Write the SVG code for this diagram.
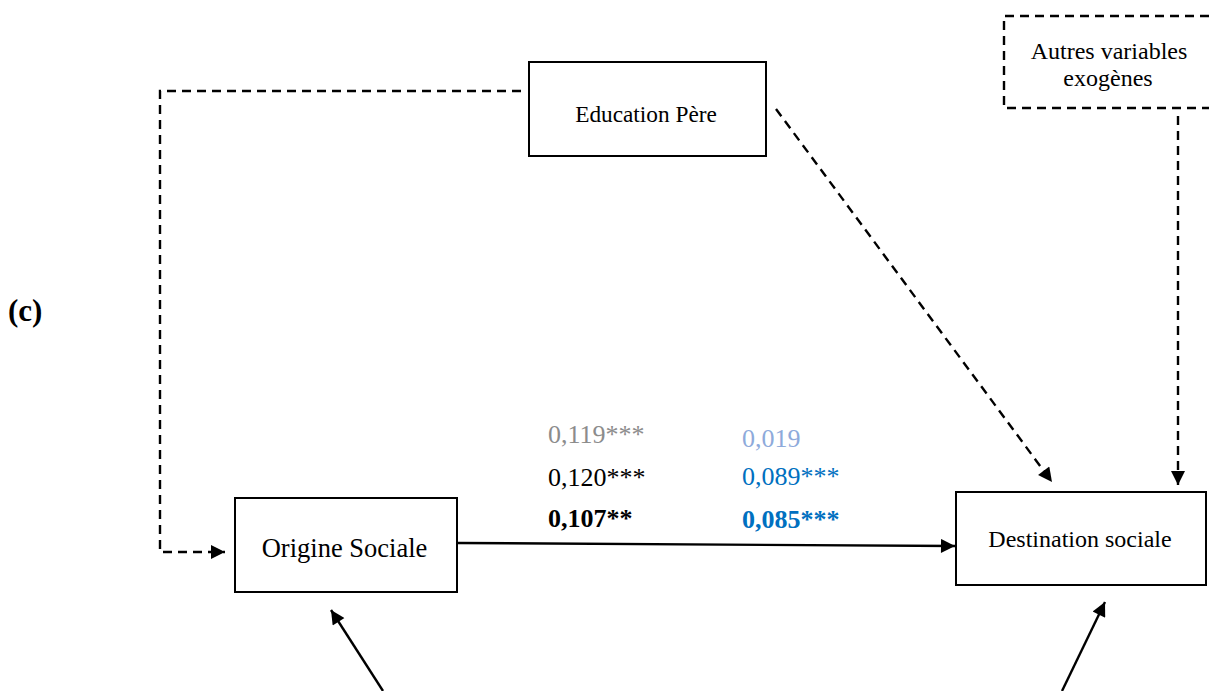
<svg xmlns="http://www.w3.org/2000/svg" width="1209" height="691" viewBox="0 0 1209 691">
<style>
.box{fill:#fff;stroke:#000;stroke-width:2}
.dbox{fill:none;stroke:#000;stroke-width:2.4;stroke-dasharray:9 6}
.t{font-family:"Liberation Serif","Times New Roman",serif;fill:#000}
.n{font-family:"Liberation Serif","Times New Roman",serif;font-size:26px}
.solid{fill:none;stroke:#000;stroke-width:2.4}
.dash{fill:none;stroke:#000;stroke-width:2.4;stroke-dasharray:9 6}
</style>
<defs>
<marker id="ah" viewBox="0 0 10 10" refX="10" refY="5" markerWidth="18" markerHeight="14" markerUnits="userSpaceOnUse" orient="auto">
<path d="M0,0 L10,5 L0,10 Z" fill="#000"/>
</marker>
</defs>
<rect width="1209" height="691" fill="#fff"/>
<text x="8" y="321" class="t" font-weight="bold" font-size="31">(c)</text>
<g id="connectors">
<polyline class="dash" points="521,91 160,91 160,552 225,552" marker-end="url(#ah)"/>
<line class="solid" x1="458" y1="543" x2="955" y2="546" marker-end="url(#ah)"/>
<line class="dash" x1="776" y1="109" x2="1052" y2="482" marker-end="url(#ah)"/>
<line class="dash" x1="1178" y1="116" x2="1178" y2="485" marker-end="url(#ah)"/>
<line class="solid" x1="383" y1="691" x2="331" y2="610" marker-end="url(#ah)"/>
<line class="solid" x1="1062" y1="691" x2="1105" y2="602" marker-end="url(#ah)"/>
</g>
<g id="education-pere">
<rect class="box" x="529" y="62" width="237" height="94"/>
<text class="t" x="646" y="122" text-anchor="middle" font-size="23.3">Education Père</text>
</g>
<g id="autres-variables">
<path class="dbox" d="M1209,16 L1004,16 L1004,108 L1209,108"/>
<text class="t" x="1109" y="59" text-anchor="middle" font-size="24">Autres variables</text>
<text class="t" x="1108" y="86" text-anchor="middle" font-size="24">exogènes</text>
</g>
<g id="origine-sociale">
<rect class="box" x="235" y="498" width="222" height="94"/>
<text class="t" x="344.5" y="557" text-anchor="middle" font-size="26.5">Origine Sociale</text>
</g>
<g id="destination-sociale">
<rect class="box" x="956" y="492" width="250" height="93"/>
<text class="t" x="1080" y="547" text-anchor="middle" font-size="24">Destination sociale</text>
</g>
<g id="coefficients">
<text class="n" x="548" y="443" fill="#8c8c8c">0,119***</text>
<text class="n" x="548" y="486" fill="#000">0,120***</text>
<text class="n" x="548" y="527" fill="#000" font-weight="bold">0,107**</text>
<text class="n" x="742" y="447" fill="#8eaadb">0,019</text>
<text class="n" x="742" y="485" fill="#0070c0">0,089***</text>
<text class="n" x="742" y="528" fill="#0070c0" font-weight="bold">0,085***</text>
</g>
</svg>
